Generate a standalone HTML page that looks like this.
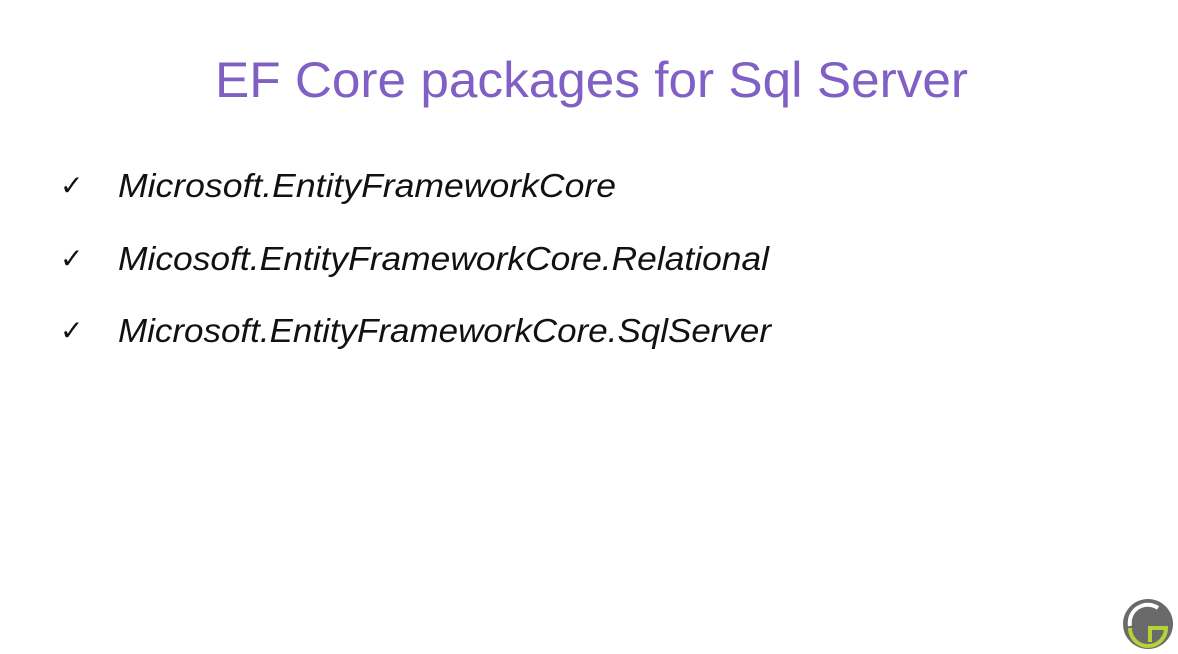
<!DOCTYPE html>
<html><head><meta charset="utf-8"><style>
html,body{margin:0;padding:0;background:#fff;}
</style></head><body>
<svg width="1178" height="654" xmlns="http://www.w3.org/2000/svg" style="display:block">
<rect width="1178" height="654" fill="#fff"/>
<text x="215" y="97" font-family="Liberation Sans, sans-serif" font-size="50" fill="#8060c4" textLength="753" lengthAdjust="spacingAndGlyphs">EF Core packages for Sql Server</text>
<g font-family="Liberation Sans, sans-serif" font-size="33" font-style="italic" fill="#111">
<text x="60" y="195" font-style="normal" font-size="28">✓</text>
<text x="118" y="197" textLength="498" lengthAdjust="spacingAndGlyphs">Microsoft.EntityFrameworkCore</text>
<text x="60" y="268" font-style="normal" font-size="28">✓</text>
<text x="118" y="270" textLength="651" lengthAdjust="spacingAndGlyphs">Micosoft.EntityFrameworkCore.Relational</text>
<text x="60" y="340" font-style="normal" font-size="28">✓</text>
<text x="118" y="342" textLength="653" lengthAdjust="spacingAndGlyphs">Microsoft.EntityFrameworkCore.SqlServer</text>
</g>
<circle cx="1148" cy="624" r="25" fill="#6a6a6a"/>
<path d="M1130 626 A18 18 0 0 1 1158 608" stroke="#fff" stroke-width="4" fill="none"/>
<path d="M1130 628 A18 18 0 0 0 1166 628 L1150 628 L1150 642" stroke="#b5d334" stroke-width="4" fill="none"/>
</svg>
</body></html>
